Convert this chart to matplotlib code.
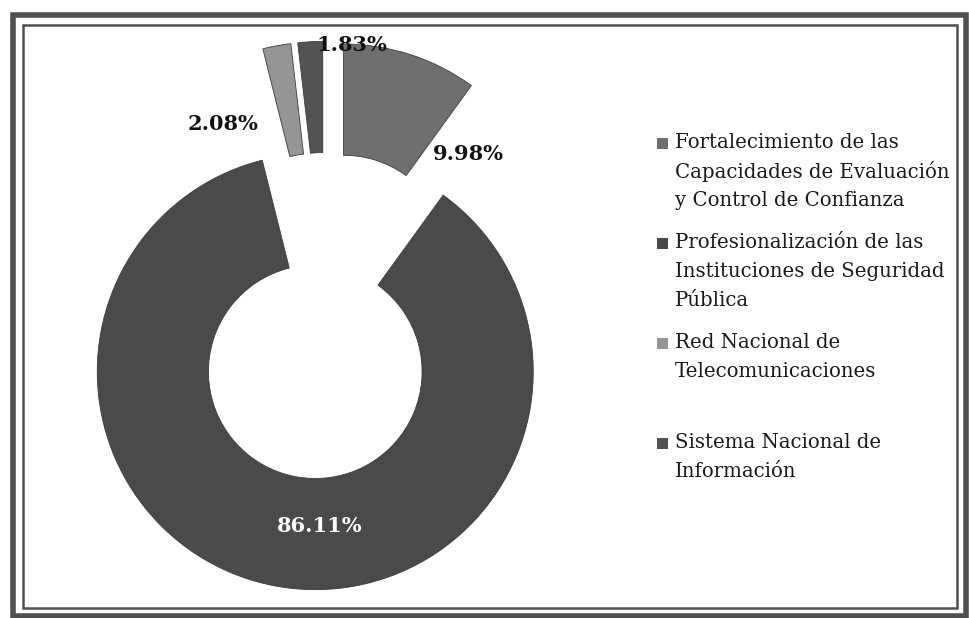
import matplotlib.pyplot as plt
from matplotlib.patches import Rectangle

# data
categories = [
    "Fortalecimiento de las\nCapacidades de Evaluación\ny Control de Confianza",
    "Profesionalización de las\nInstituciones de Seguridad\nPública",
    "Red Nacional de\nTelecomunicaciones",
    "Sistema Nacional de\nInformación",
]
values = [9.98, 86.11, 2.08, 1.83]
colors = ["#6f6f6f", "#4a4a4a", "#959595", "#535353"]

W, H = 969, 618
CX, CY, R = 326, 316, 218  # pie centre / radius in pixels

fig = plt.figure(figsize=(W / 100, H / 100), dpi=100)

# pie axes, 1 unit = R pixels
ax = fig.add_axes([0, 0, 1, 1])
ax.pie(values, colors=colors, startangle=90, counterclock=False,
       radius=1, explode=[0.26] * len(values),
       wedgeprops=dict(width=0.51, edgecolor="#3c3c3c", linewidth=0.6))
ax.set_xlim(-CX / R, (W - CX) / R)
ax.set_ylim(-(H - CY) / R, CY / R)
ax.axis("off")

# overlay in pixel coords for labels, legend and frame
ov = fig.add_axes([0, 0, 1, 1])
ov.set_xlim(0, W)
ov.set_ylim(H, 0)
ov.axis("off")
ov.patch.set_alpha(0)

serif = "DejaVu Serif"

label_pos = [(468, 154), (320, 526), (223, 124), (352, 45)]
label_col = ["#111111", "white", "#111111", "#111111"]
for v, (x, y), c in zip(values, label_pos, label_col):
    ov.text(x, y, f"{v:.2f}%", ha="center", va="center", fontsize=15,
            fontweight="bold", family=serif, color=c)

# legend, one text per line so the first line sits next to the marker
for i, (name, c) in enumerate(zip(categories, colors)):
    y = 143 + 100 * i
    ov.add_patch(Rectangle((657, y - 5), 11, 11, facecolor=c, edgecolor="none"))
    for j, line in enumerate(name.split("\n")):
        ov.text(675, y + 28.5 * j, line, ha="left", va="center", fontsize=14.2,
                family=serif, color="#1a1a1a")

# double frame
ov.add_patch(Rectangle((13, 15), 953, 601, fill=False, edgecolor="#505050", linewidth=4))
ov.add_patch(Rectangle((23, 25), 934, 583, fill=False, edgecolor="#505050", linewidth=1.8))

fig.savefig("out.png", dpi=100)
